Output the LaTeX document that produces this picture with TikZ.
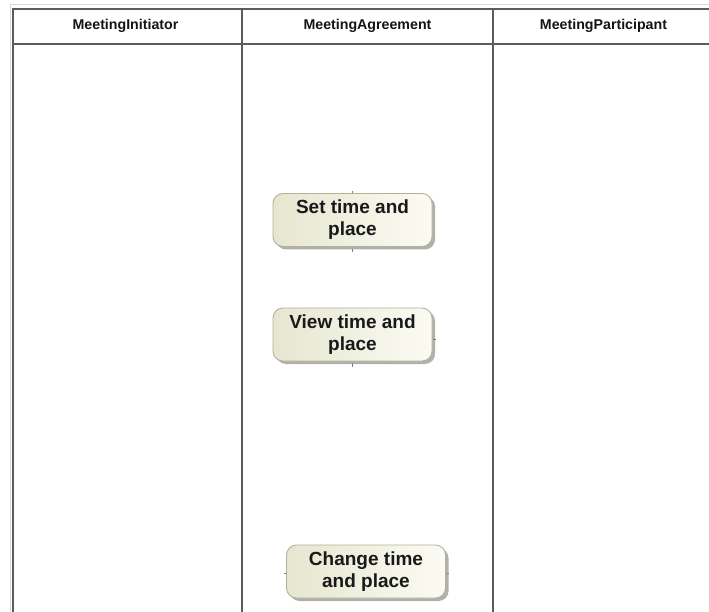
\documentclass[tikz,border=0pt]{standalone}
\usepackage{fontspec}
\setmainfont{Liberation Sans}
\usetikzlibrary{shadows}
\definecolor{laneline}{HTML}{5C5C5C}
\definecolor{laneghost}{HTML}{DADADA}
\definecolor{actL}{HTML}{E6E6D0}
\definecolor{actR}{HTML}{FBFBF4}
\definecolor{actBorder}{HTML}{B2B29A}
\definecolor{actShadow}{HTML}{9E9E98}
\tikzset{
  lane/.style={draw=laneline, line width=2pt},
  ghost/.style={draw=laneghost, line width=1pt},
  lanehead/.style={font=\fontsize{14.2}{16}\selectfont\bfseries, text=black!92, anchor=center},
  action/.style={rounded corners=10pt, draw=actBorder, line width=0.9pt,
    left color=actL, right color=actR,
    minimum width=159pt, minimum height=53pt, align=center, inner sep=0pt,
    font=\fontsize{19}{22}\selectfont\bfseries, text=black!90,
    drop shadow={shadow xshift=3pt, shadow yshift=-3pt, fill=actShadow, opacity=0.8}},
  porttick/.style={draw=laneline!80, line width=0.8pt}
}
\begin{document}
\begin{tikzpicture}[x=1pt, y=-1pt]
  \useasboundingbox (0,0) rectangle (709,612);
  \fill[white] (0,0) rectangle (709,612);

  % faint double edge along the outer frame
  \draw[ghost] (10,640) -- (10,5) -- (720,5);

  % swimlane frame: outer edge, header rule and lane dividers
  \draw[lane] (13,640) -- (13,9) -- (720,9);
  \draw[lane] (13,44) -- (720,44);
  \draw[lane] (242,9) -- (242,640);
  \draw[lane] (493,9) -- (493,640);

  % lane titles
  \node[lanehead] (initiator)   at (125.5,26) {MeetingInitiator};
  \node[lanehead] (agreement)   at (367.5,26) {MeetingAgreement};
  \node[lanehead] (participant) at (603.5,26) {MeetingParticipant};

  % actions in the MeetingAgreement lane
  \node[action] (settime)    at (352.5,220)   {Set time and\\place};
  \node[action] (viewtime)   at (352.5,334.5) {View time and\\place};
  \node[action] (changetime) at (366,571.5)   {Change time\\and place};

  % small connection ports on the actions
  \draw[porttick] (settime.north) -- ++(0,-2.5);
  \draw[porttick] ([yshift=-2pt]settime.south) -- ++(0,3.5);
  \draw[porttick] ([yshift=-2pt]viewtime.south) -- ++(0,3.5);
  \draw[porttick] ([xshift=1pt,yshift=-5pt]viewtime.east) -- ++(2.5,0);
  \draw[porttick] ([yshift=-2pt]changetime.west) -- ++(-2,0);
  \draw[porttick] ([xshift=1pt,yshift=-2pt]changetime.east) -- ++(2.5,0);
\end{tikzpicture}
\end{document}
